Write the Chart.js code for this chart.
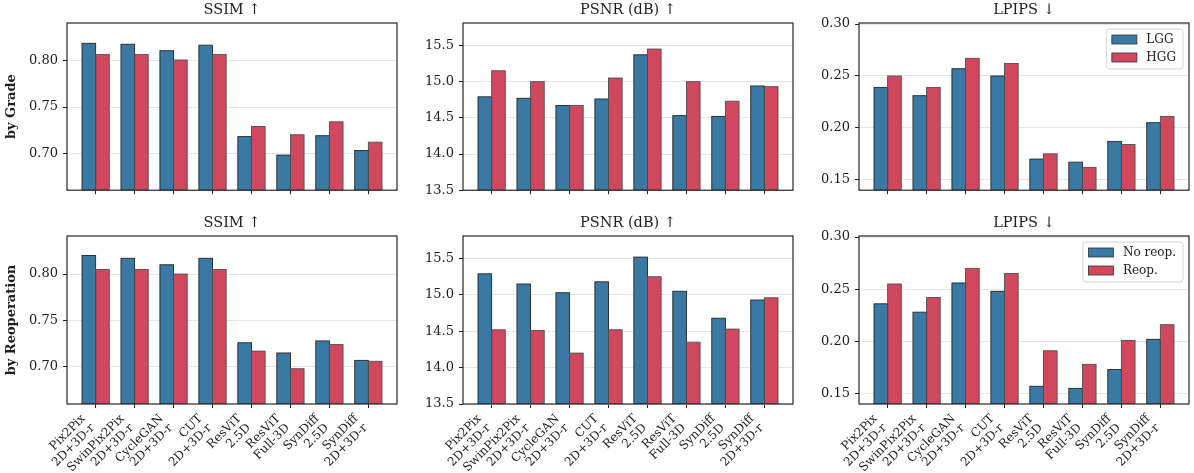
<!DOCTYPE html>
<html><head><meta charset="utf-8">
<script src="https://cdn.jsdelivr.net/npm/chart.js@4.4.0/dist/chart.umd.min.js"></script>
<style>
html,body{margin:0;padding:0;background:#fff;}
body{width:1194px;height:473px;position:relative;overflow:hidden;}
canvas{position:absolute;}
</style></head><body>
<script>
// ---------- data ----------
const categories = [["Pix2Pix","2D+3D-r"],["SwinPix2Pix","2D+3D-r"],["CycleGAN","2D+3D-r"],["CUT","2D+3D-r"],["ResViT","2.5D"],["ResViT","Full-3D"],["SynDiff","2.5D"],["SynDiff","2D+3D-r"]];
const gradeLabels = ["LGG","HGG"];
const reopLabels = ["No reop.","Reop."];
const rowLabels = ["by Grade","by Reoperation"];
const metricTitles = ["SSIM \u2191","PSNR (dB) \u2191","LPIPS \u2193"];

const ssimLGG  = [0.819,0.818,0.811,0.817,0.718,0.698,0.719,0.703];
const ssimHGG  = [0.807,0.807,0.801,0.807,0.729,0.720,0.734,0.712];
const psnrLGG  = [14.79,14.77,14.67,14.76,15.37,14.53,14.52,14.94];
const psnrHGG  = [15.15,15.00,14.67,15.05,15.45,15.00,14.73,14.93];
const lpipsLGG = [0.239,0.231,0.257,0.250,0.170,0.167,0.187,0.205];
const lpipsHGG = [0.250,0.239,0.267,0.262,0.175,0.162,0.184,0.211];

const ssimNoReop  = [0.820,0.817,0.810,0.817,0.726,0.715,0.728,0.707];
const ssimReop    = [0.805,0.805,0.800,0.805,0.717,0.698,0.724,0.706];
const psnrNoReop  = [15.29,15.15,15.03,15.18,15.52,15.05,14.68,14.93];
const psnrReop    = [14.52,14.51,14.20,14.52,15.25,14.35,14.53,14.96];
const lpipsNoReop = [0.236,0.228,0.256,0.248,0.157,0.155,0.173,0.202];
const lpipsReop   = [0.255,0.242,0.270,0.265,0.191,0.178,0.201,0.216];

const ssimTicks  = [0.70,0.75,0.80];
const psnrTicks  = [13.5,14.0,14.5,15.0,15.5];
const lpipsTicks = [0.15,0.20,0.25,0.30];
const ssimRange  = [0.66,0.841];
const psnrRange  = [13.5,15.81];
const lpipsRange = [0.14,0.301];

// ---------- styling / layout ----------
const FONT = "'DejaVu Serif', serif";
const BLUE = '#3b79a5', RED = '#d1485e';
const EDGE = ['#262626', '#505050'];
const TXT = '#1e1e1e';
const colPlotLeft = [67, 463, 859];
const axisW = [67, 60, 60];
const plotW = 330, plotH = 168;
const rowPlotTop = [23, 236];
const titleH = 21;
const xAxisH = [12, 69];

// edges centred on bar outlines (geometry from the library's bar elements)
const edgePlugin = {
  id: 'edgePlugin',
  afterDatasetsDraw(chart) {
    const {ctx, chartArea: a} = chart;
    ctx.save();
    ctx.beginPath();
    ctx.rect(a.left, a.top, a.width, a.height);
    ctx.clip();
    ctx.lineWidth = 0.9;
    chart.data.datasets.forEach((d, di) => {
      const meta = chart.getDatasetMeta(di);
      ctx.strokeStyle = EDGE[di];
      meta.data.forEach(el => {
        const p = el.getProps(['x', 'y', 'base', 'width'], true);
        const b = Math.min(p.base, a.bottom);
        ctx.strokeRect(p.x - p.width / 2, p.y, p.width, b - p.y);
      });
    });
    ctx.restore();
  }
};

const boxPlugin = {
  id: 'boxPlugin',
  afterDatasetsDraw(chart) {
    const {ctx, chartArea: a} = chart;
    ctx.save();
    ctx.strokeStyle = '#262626';
    ctx.lineWidth = 1.2;
    ctx.strokeRect(a.left, a.top, a.width, a.height);
    ctx.restore();
  }
};

const insideLegend = {
  id: 'insideLegend',
  afterDraw(chart) {
    const {ctx, chartArea: a} = chart;
    const ds = chart.data.datasets;
    ctx.save();
    ctx.font = "12px " + FONT;
    let tw = 0;
    ds.forEach(d => { tw = Math.max(tw, ctx.measureText(d.label).width); });
    const w = 40 + tw + 7, h = 40;
    const x = a.right - 6 - w, y = a.top + 6;
    ctx.beginPath();
    ctx.roundRect(x, y, w, h, 3);
    ctx.fillStyle = 'rgba(255,255,255,0.85)';
    ctx.fill();
    ctx.strokeStyle = '#d4d4d4';
    ctx.lineWidth = 1;
    ctx.stroke();
    ds.forEach((d, i) => {
      const cy = y + 10.5 + i * 18;
      ctx.fillStyle = d.backgroundColor;
      ctx.fillRect(x + 5.5, cy - 4.5, 25, 9);
      ctx.strokeStyle = '#333';
      ctx.lineWidth = 0.8;
      ctx.strokeRect(x + 5.5, cy - 4.5, 25, 9);
      ctx.fillStyle = TXT;
      ctx.textBaseline = 'middle';
      ctx.textAlign = 'left';
      ctx.fillText(d.label, x + 40, cy + 0.5);
    });
    ctx.restore();
  }
};

function makePanel(row, col, title, seriesA, seriesB, names, ticks, range, decimals) {
  const cv = document.createElement('canvas');
  const left = colPlotLeft[col] - axisW[col];
  const top = rowPlotTop[row] - titleH;
  const W = axisW[col] + plotW + 4;
  const H = titleH + plotH + xAxisH[row];
  cv.width = W; cv.height = H;
  cv.style.left = left + 'px'; cv.style.top = top + 'px';
  cv.style.width = W + 'px'; cv.style.height = H + 'px';
  document.body.appendChild(cv);
  const showX = row === 1;
  const plugins = [edgePlugin, boxPlugin];
  if (col === 2) plugins.push(insideLegend);
  new Chart(cv, {
    type: 'bar',
    data: {
      datasets: [
        {label: names[0], data: categories.map((c, i) => ({x: i, y: seriesA[i]})), backgroundColor: BLUE, borderWidth: 0, inflateAmount: 0},
        {label: names[1], data: categories.map((c, i) => ({x: i, y: seriesB[i]})), backgroundColor: RED, borderWidth: 0, inflateAmount: 0}
      ]
    },
    plugins: plugins,
    options: {
      responsive: false,
      animation: false,
      devicePixelRatio: 1,
      layout: {padding: {left: 0, right: 4, top: 0, bottom: 0}},
      datasets: {bar: {categoryPercentage: 0.7, barPercentage: 1.0, grouped: true}},
      plugins: {
        legend: {display: false},
        tooltip: {enabled: false},
        title: {display: true, text: title, fullSize: false, color: TXT,
                font: {family: FONT, size: 14.5, weight: 'normal', lineHeight: '16px'},
                padding: {top: 0, bottom: 5}}
      },
      scales: {
        x: {
          type: 'linear', min: -0.735, max: 7.735, offset: false,
          afterBuildTicks: s => { s.ticks = categories.map((c, i) => ({value: i})); },
          afterFit: s => { s.height = xAxisH[row]; },
          grid: {display: true, drawOnChartArea: false, drawTicks: true, tickLength: 4, tickColor: '#222', tickWidth: 1, offset: false},
          border: {display: false},
          ticks: {display: showX, autoSkip: false, maxRotation: 45, minRotation: 45, padding: 4, labelOffset: -12,
                  color: TXT, font: {family: FONT, size: 12, lineHeight: 1.1},
                  callback: v => categories[v]}
        },
        y: {
          type: 'linear', min: range[0], max: range[1], beginAtZero: false,
          afterBuildTicks: s => { s.ticks = ticks.map(v => ({value: v})); },
          afterFit: s => { s.width = axisW[col]; },
          grid: {display: true, drawOnChartArea: true, drawTicks: true, tickLength: 4, color: '#e6e6e6', lineWidth: 1, tickColor: '#222', tickWidth: 1},
          border: {display: false},
          ticks: {padding: 5, color: TXT, font: {family: FONT, size: 13}, callback: v => Number(v).toFixed(decimals)},
          title: {display: col === 0, text: rowLabels[row], color: TXT,
                  font: {family: FONT, size: 13, weight: 'bold'}, padding: {top: 4, bottom: 0}}
        }
      }
    }
  });
}

makePanel(0, 0, metricTitles[0], ssimLGG, ssimHGG, gradeLabels, ssimTicks, ssimRange, 2);
makePanel(0, 1, metricTitles[1], psnrLGG, psnrHGG, gradeLabels, psnrTicks, psnrRange, 1);
makePanel(0, 2, metricTitles[2], lpipsLGG, lpipsHGG, gradeLabels, lpipsTicks, lpipsRange, 2);
makePanel(1, 0, metricTitles[0], ssimNoReop, ssimReop, reopLabels, ssimTicks, ssimRange, 2);
makePanel(1, 1, metricTitles[1], psnrNoReop, psnrReop, reopLabels, psnrTicks, psnrRange, 1);
makePanel(1, 2, metricTitles[2], lpipsNoReop, lpipsReop, reopLabels, lpipsTicks, lpipsRange, 2);
</script>
</body></html>
